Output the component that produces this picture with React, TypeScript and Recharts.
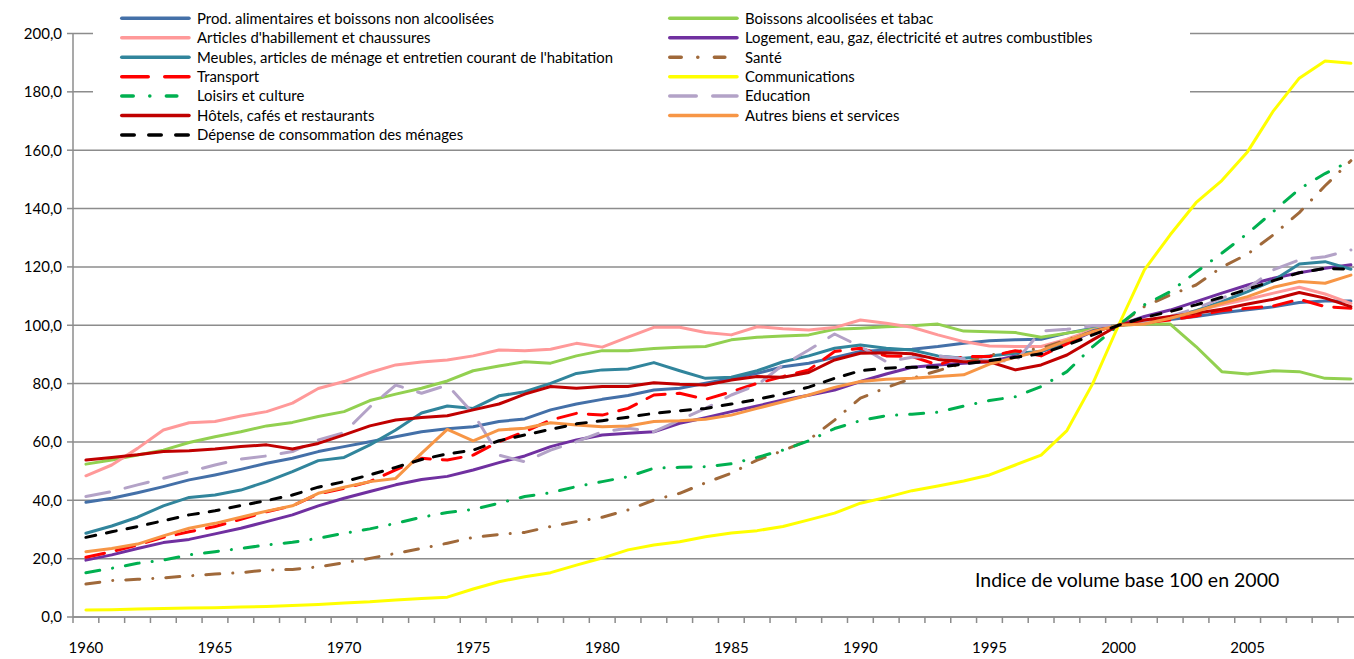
import { LineChart, Line, XAxis, YAxis, CartesianGrid, Legend } from 'recharts';

// Indice de volume, base 100 en 2000
const years = Array.from({ length: 50 }, (_, i) => 1960 + i);

const prodAlimentaires = [
  39.3, 40.7, 42.6, 44.7, 47.0, 48.7, 50.6, 52.7, 54.4, 56.7, 58.4, 60.1, 61.8, 63.5, 64.5,
  65.2, 67.0, 67.9, 71.0, 73.0, 74.6, 75.9, 77.8, 78.4, 80.1, 81.8, 83.5, 85.8,
  87.0, 89.0, 91.0, 91.5, 91.8, 92.7, 93.8, 94.7, 95.0, 95.2, 97.3, 99.0,
  100.0, 101.0, 102.0, 103.0, 104.3, 105.3, 106.3, 107.8, 108.3, 108.3,
];
const boissonsAlcool = [
  52.4, 53.8, 55.5, 57.2, 59.8, 61.8, 63.5, 65.5, 66.7, 68.7, 70.4, 74.2, 76.4, 78.4, 80.9,
  84.4, 86.0, 87.5, 87.0, 89.5, 91.3, 91.3, 92.0, 92.5, 92.7, 95.0, 95.9, 96.3,
  96.7, 98.6, 99.0, 99.5, 99.8, 100.4, 98.0, 97.8, 97.5, 95.9, 97.3, 98.6,
  100.0, 100.4, 100.4, 92.7, 84.1, 83.3, 84.4, 84.1, 81.8, 81.6,
];
const habillement = [
  48.4, 52.1, 57.8, 64.1, 66.6, 67.0, 68.9, 70.4, 73.3, 78.3, 80.7, 83.8, 86.4, 87.4, 88.1,
  89.5, 91.5, 91.3, 91.8, 93.8, 92.5, 95.9, 99.3, 99.3, 97.5, 96.7, 99.5, 98.8,
  98.4, 99.2, 101.8, 100.7, 99.3, 96.7, 94.4, 92.9, 92.7, 92.7, 95.2, 98.4,
  100.0, 101.2, 102.7, 105.0, 107.0, 108.9, 111.0, 113.0, 110.7, 107.5,
];
const logement = [
  19.5, 21.3, 23.5, 25.5, 26.6, 28.5, 30.4, 32.7, 35.0, 38.1, 40.7, 43.0, 45.3, 47.1, 48.2,
  50.4, 52.9, 55.2, 58.4, 60.7, 62.4, 63.0, 63.5, 66.4, 68.3, 70.4, 72.3, 74.4,
  76.0, 77.8, 80.7, 83.3, 85.6, 86.4, 87.0, 87.5, 89.5, 91.0, 94.0, 97.8,
  100.0, 103.0, 105.2, 108.1, 111.0, 113.8, 116.1, 118.0, 119.5, 120.7,
];
const meubles = [
  28.7, 31.2, 34.2, 38.1, 41.0, 41.8, 43.5, 46.4, 49.8, 53.6, 54.7, 59.0, 64.1, 69.9, 72.3,
  71.5, 75.8, 77.2, 80.1, 83.5, 84.7, 85.0, 87.2, 84.4, 81.8, 82.2, 84.4, 87.5,
  89.5, 92.1, 93.2, 92.1, 91.5, 89.5, 88.7, 89.5, 90.4, 91.0, 94.4, 98.1,
  100.0, 100.7, 102.4, 105.0, 108.1, 111.5, 115.3, 121.0, 121.8, 119.2,
];
const sante = [
  11.3, 12.5, 12.9, 13.4, 14.1, 14.7, 15.2, 16.1, 16.3, 17.2, 18.6, 20.1, 21.8, 23.5, 25.3,
  27.3, 28.3, 29.0, 31.0, 32.7, 34.2, 36.7, 40.1, 42.4, 46.0, 49.3, 53.8, 57.0,
  60.7, 67.5, 75.0, 78.6, 81.8, 84.4, 87.0, 89.8, 91.0, 92.1, 95.0, 97.8,
  100.0, 106.4, 110.4, 113.8, 119.9, 124.4, 131.0, 138.6, 147.8, 156.4,
];
const transport = [
  20.5, 22.4, 24.7, 27.3, 29.2, 31.0, 33.5, 36.1, 38.1, 42.2, 44.1, 46.4, 50.4, 54.4, 53.8,
  55.5, 60.1, 63.5, 67.5, 69.8, 69.2, 71.5, 76.1, 76.7, 74.6, 77.2, 80.1, 82.4,
  84.7, 91.0, 92.1, 89.5, 89.3, 86.4, 89.3, 89.3, 91.3, 89.5, 93.6, 97.8,
  100.0, 100.9, 101.8, 103.2, 105.0, 105.8, 106.6, 108.9, 106.4, 105.8,
];
const communications = [
  2.4, 2.5, 2.7, 2.9, 3.1, 3.2, 3.4, 3.6, 3.9, 4.3, 4.8, 5.2, 5.8, 6.3, 6.8,
  9.6, 12.1, 13.8, 15.2, 17.8, 20.2, 23.0, 24.7, 25.8, 27.5, 28.8, 29.6, 31.0,
  33.3, 35.6, 39.0, 41.0, 43.3, 44.9, 46.6, 48.7, 52.1, 55.5, 63.9, 80.0,
  100.0, 119.0, 131.0, 142.0, 149.6, 159.5, 173.5, 184.7, 190.6, 189.8,
];
const loisirs = [
  15.2, 16.7, 18.4, 19.5, 21.3, 22.4, 23.5, 24.7, 25.6, 27.0, 28.7, 30.2, 32.1, 34.2, 35.8,
  36.9, 39.0, 41.3, 42.6, 44.7, 46.4, 48.1, 51.0, 51.3, 51.5, 52.5, 54.7, 57.2,
  60.4, 64.6, 67.3, 69.0, 69.5, 70.2, 72.3, 74.2, 75.5, 79.0, 84.1, 92.7,
  100.0, 107.0, 111.5, 118.2, 124.7, 131.5, 139.0, 146.7, 152.0, 156.4,
];
const education = [
  41.3, 43.0, 45.3, 47.5, 49.8, 52.1, 54.1, 55.2, 56.7, 60.7, 63.2, 72.0, 79.5, 76.7, 79.5,
  69.8, 55.5, 53.2, 57.2, 60.1, 63.5, 64.7, 63.5, 67.5, 71.5, 76.1, 79.5, 86.4,
  91.5, 97.0, 92.7, 87.5, 89.0, 89.5, 88.5, 88.0, 87.5, 98.0, 98.6, 99.8,
  100.0, 100.9, 103.0, 105.8, 109.3, 112.7, 119.0, 122.4, 123.5, 125.8,
];
const hotels = [
  53.8, 54.7, 55.6, 56.7, 57.0, 57.6, 58.4, 59.0, 57.6, 59.5, 62.4, 65.5, 67.5, 68.4, 69.0,
  71.0, 73.0, 76.4, 79.0, 78.4, 79.0, 79.0, 80.3, 79.8, 79.5, 81.2, 82.4, 82.2,
  83.8, 88.1, 90.4, 90.6, 90.2, 88.3, 87.5, 87.5, 84.7, 86.4, 89.8, 95.0,
  100.0, 101.8, 103.0, 104.1, 105.5, 107.3, 108.9, 111.2, 109.3, 106.4,
];
const autresBiens = [
  22.4, 23.5, 25.0, 27.8, 30.4, 32.1, 34.2, 36.3, 38.1, 42.4, 44.5, 46.4, 47.5, 56.1, 64.3,
  60.4, 64.1, 64.7, 66.6, 65.8, 65.2, 65.5, 67.0, 67.3, 67.8, 69.2, 71.5, 73.8,
  76.1, 78.7, 80.7, 81.5, 81.8, 82.4, 83.0, 86.7, 89.0, 91.3, 94.7, 97.8,
  100.0, 100.4, 102.4, 104.7, 107.5, 109.8, 113.0, 115.0, 114.4, 117.2,
];
const depenseMenages = [
  27.3, 29.2, 31.0, 33.0, 35.0, 36.4, 38.2, 39.9, 41.8, 44.5, 46.4, 48.7, 51.3, 54.0, 55.9,
  57.2, 60.4, 62.4, 64.3, 66.2, 67.3, 68.5, 69.8, 70.7, 71.5, 73.0, 74.6, 76.4,
  78.8, 81.8, 84.4, 85.3, 85.6, 85.6, 86.7, 87.9, 89.0, 90.2, 93.2, 96.7,
  100.0, 102.7, 104.7, 107.0, 109.6, 112.3, 115.3, 118.0, 119.5, 119.2,
];

const yTicks = [0, 20, 40, 60, 80, 100, 120, 140, 160, 180, 200];
const labelYears = years.filter((y) => y % 5 === 0);
const xTicks = [...years.map((y) => y - 0.5), ...labelYears];

// legend order = reading order of the two-column legend
const SERIES = [
  { key: 'prod', name: 'Prod. alimentaires et boissons non alcoolisées', values: prodAlimentaires, color: '#4470a8' },
  { key: 'boissons', name: 'Boissons alcoolisées et tabac', values: boissonsAlcool, color: '#92d050' },
  { key: 'habill', name: "Articles d'habillement et chaussures", values: habillement, color: '#ff9999' },
  { key: 'logement', name: 'Logement, eau, gaz, électricité et autres combustibles', values: logement, color: '#7030a0' },
  { key: 'meubles', name: "Meubles, articles de ménage et entretien courant de l'habitation", values: meubles, color: '#31859c' },
  { key: 'sante', name: 'Santé', values: sante, color: '#a0693a', dash: '14 13 0.1 13', legendDash: '11.5 16.5 0.1 16.5 10.5 100' },
  { key: 'transport', name: 'Transport', values: transport, color: '#ff0000', dash: '19 12', legendDash: '26.5 16.5' },
  { key: 'comm', name: 'Communications', values: communications, color: '#ffff00' },
  { key: 'loisirs', name: 'Loisirs et culture', values: loisirs, color: '#00b050', dash: '14 13 0.1 13', legendDash: '11.5 16.5 0.1 16.5 10.5 100' },
  { key: 'educ', name: 'Education', values: education, color: '#b3a2c7', dash: '24 16', legendDash: '26.5 16.5' },
  { key: 'hotels', name: 'Hôtels, cafés et restaurants', values: hotels, color: '#c00000' },
  { key: 'autres', name: 'Autres biens et services', values: autresBiens, color: '#f79646' },
  { key: 'total', name: 'Dépense de consommation des ménages', values: depenseMenages, color: '#000000', dash: '10 11', legendDash: '12.5 14.5' },
];

const data = years.map((year, i) => {
  const row: Record<string, number> = { year };
  SERIES.forEach((s) => { row[s.key] = s.values[i]; });
  return row;
});

const FONT = 'Lato, "Open Sans", sans-serif';
const GRID = '#8c8c8c';

function YearTick(props: any) {
  const { x, y, payload } = props;
  const v = payload.value;
  if (!Number.isInteger(v)) {
    return <line x1={x} x2={x} y1={y} y2={y + 6} stroke={GRID} strokeWidth={1.5} />;
  }
  return (
    <text x={x} y={y + 36} textAnchor="middle" fontSize={15} fontFamily={FONT} fill="#000">
      {v}
    </text>
  );
}

function ChartLegend() {
  return (
    <svg width={1354} height={145} style={{ display: 'block' }}>
      <rect x={93} y={0} width={1097} height={145} fill="#fff" />
      {SERIES.map((s, i) => {
        const x0 = i % 2 === 0 ? 120 : 668;
        const y = 18.3 + Math.floor(i / 2) * 19.45;
        return (
          <g key={s.key}>
            <line
              x1={x0 + 1.75}
              x2={x0 + 69}
              y1={y}
              y2={y}
              stroke={s.color}
              strokeWidth={3.5}
              strokeLinecap="round"
              strokeDasharray={s.legendDash}
            />
            <text x={x0 + 77} y={y} dy="0.36em" fontSize={14.9} fontFamily={FONT} fill="#000">
              {s.name}
            </text>
          </g>
        );
      })}
    </svg>
  );
}

export default function App() {
  return (
    <div style={{ position: 'fixed', left: 0, top: 0, width: 1354, height: 659, background: '#fff' }}>
      <LineChart width={1354} height={659} data={data} margin={{ top: 33.5, right: 0, bottom: 0, left: 0 }}>
        <CartesianGrid vertical={false} stroke={GRID} strokeWidth={1.5} />
        <XAxis
          dataKey="year"
          type="number"
          domain={[1959.5, 2009.12]}
          ticks={xTicks}
          interval={0}
          tick={<YearTick />}
          tickLine={false}
          tickSize={0}
          tickMargin={0}
          height={42}
          axisLine={{ stroke: GRID, strokeWidth: 1.5 }}
        />
        <YAxis
          domain={[0, 200]}
          ticks={yTicks}
          interval={0}
          width={73}
          tickFormatter={(v: number) => v.toFixed(1).replace('.', ',')}
          tick={{ fill: '#000', fontSize: 15, fontFamily: FONT }}
          tickSize={6}
          tickMargin={5}
          tickLine={{ stroke: GRID, strokeWidth: 1.5 }}
          axisLine={{ stroke: GRID, strokeWidth: 1.5 }}
        />
        <Legend
          verticalAlign="middle"
          align="center"
          layout="horizontal"
          content={<ChartLegend />}
          wrapperStyle={{ top: 0, left: 0, width: 1354, height: 145 }}
        />
        {SERIES.map((s) => (
          <Line
            key={s.key}
            type="linear"
            dataKey={s.key}
            name={s.name}
            stroke={s.color}
            strokeWidth={3}
            strokeDasharray={s.dash}
            strokeLinecap="round"
            strokeLinejoin="round"
            dot={false}
            activeDot={false}
            isAnimationActive={false}
          />
        ))}
      </LineChart>
      <svg width={1354} height={659} style={{ position: 'absolute', left: 0, top: 0, pointerEvents: 'none' }}>
        <text x={975} y={587} fontSize={19.5} fontFamily={FONT} fill="#000">
          Indice de volume base 100 en 2000
        </text>
      </svg>
    </div>
  );
}
